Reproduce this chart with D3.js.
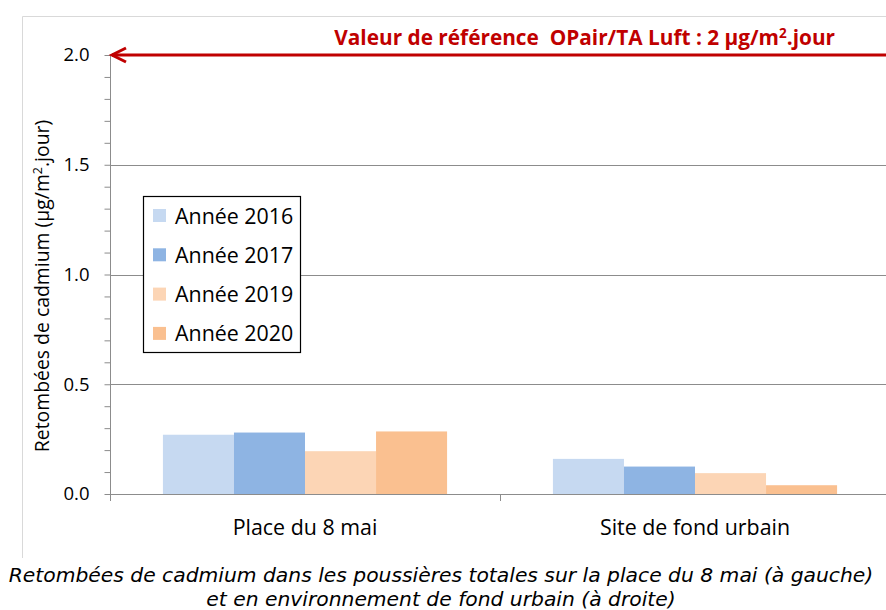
<!DOCTYPE html>
<html>
<head>
<meta charset="utf-8">
<script src="https://cdn.jsdelivr.net/npm/d3@7"></script>
<style>
  body { margin: 0; background: #fff; }
  text { font-family: "Open Sans", Lato, sans-serif; }
</style>
</head>
<body>
<div id="chart"></div>
<script>
// data
var sites = ["Place du 8 mai", "Site de fond urbain"];
var years = ["Année 2016", "Année 2017", "Année 2019", "Année 2020"];
var values2016 = [0.27, 0.16];
var values2017 = [0.28, 0.125];
var values2019 = [0.195, 0.095];
var values2020 = [0.285, 0.04];
var yTicks = [0.0, 0.5, 1.0, 1.5, 2.0];
var refValue = 2;
var refLabel = "Valeur de référence \u00a0OPair/TA Luft : 2 µg/m";
var captionLines = ["Retombées de cadmium dans les poussières totales sur la place du 8 mai (à gauche)",
                    "et en environnement de fond urbain (à droite)"];

var colors = ["#c6d9f1", "#8eb4e3", "#fcd5b5", "#fac090"];
var series = [values2016, values2017, values2019, values2020];

var width = 886, height = 610;
var margin = {top: 55, left: 110, bottom: 494, right: 890};

var svg = d3.select("#chart")
  .append("svg")
  .attr("width", width)
  .attr("height", height);

// outer frame (left and top edges only visible)
svg.append("path")
  .attr("d", "M22.5,558 V16.5 H886")
  .attr("fill", "none")
  .attr("stroke", "#d9d9d9")
  .attr("stroke-width", 1);

// scales
var y = d3.scaleLinear().domain([0, 2]).range([margin.bottom, margin.top]);
var x0 = d3.scaleBand().domain(sites).range([margin.left, margin.right]);
var x1 = d3.scaleBand().domain(years).range([0, x0.bandwidth()]).paddingOuter(0.745);

// gridlines
svg.append("g")
  .selectAll("line")
  .data(yTicks.filter(function(d) { return d > 0 && d < 2; }))
  .enter().append("line")
  .attr("x1", margin.left).attr("x2", width)
  .attr("y1", function(d) { return Math.round(y(d)) + 0.5; })
  .attr("y2", function(d) { return Math.round(y(d)) + 0.5; })
  .attr("stroke", "#8c8c8c")
  .attr("stroke-width", 1);

// bars
var groups = svg.append("g")
  .selectAll("g")
  .data(sites)
  .enter().append("g")
  .attr("transform", function(d) { return "translate(" + x0(d) + ",0)"; });

groups.selectAll("rect")
  .data(function(d, i) { return years.map(function(yr, j) { return {year: yr, value: series[j][i], c: colors[j]}; }); })
  .enter().append("rect")
  .attr("x", function(d) { return x1(d.year); })
  .attr("width", x1.bandwidth())
  .attr("y", function(d) { return y(d.value); })
  .attr("height", function(d) { return y(0) - y(d.value); })
  .attr("fill", function(d) { return d.c; });

// y axis
var yAxis = d3.axisLeft(y)
  .tickValues(d3.range(0, 2.01, 0.1))
  .tickSize(6)
  .tickFormat(function(d) { return (Math.round(d * 10) % 5 === 0) ? d3.format(".1f")(d) : ""; });

var gy = svg.append("g")
  .attr("transform", "translate(" + (margin.left + 0.5) + ",0)")
  .call(yAxis);
gy.select(".domain").attr("stroke", "#8c8c8c").attr("d", "M0," + margin.bottom + "V" + margin.top);
gy.selectAll(".tick line").attr("stroke", "#8c8c8c");
gy.selectAll(".tick text")
  .attr("x", -21)
  .attr("fill", "#000")
  .style("font-size", "18.5px");

// x axis
var xAxis = d3.axisBottom(x0).tickSize(0);
var gx = svg.append("g")
  .attr("transform", "translate(0," + (margin.bottom + 0.5) + ")")
  .call(xAxis);
gx.select(".domain").attr("stroke", "#8c8c8c").attr("d", "M" + margin.left + ",0H" + width);
gx.selectAll(".tick text")
  .attr("y", 40)
  .attr("dy", 0)
  .attr("fill", "#000")
  .style("font-size", "21.4px");
// category separator ticks
svg.append("g")
  .selectAll("line")
  .data(sites.concat(["end"]))
  .enter().append("line")
  .attr("x1", function(d, i) { return Math.round(margin.left + i * x0.step()) + 0.5; })
  .attr("x2", function(d, i) { return Math.round(margin.left + i * x0.step()) + 0.5; })
  .attr("y1", margin.bottom)
  .attr("y2", margin.bottom + 7)
  .attr("stroke", "#8c8c8c");

// y axis title
var yt = svg.append("text")
  .attr("transform", "translate(49," + 286 + ") rotate(-90)")
  .attr("text-anchor", "middle")
  .style("font-size", "19.4px")
  .attr("fill", "#000");
yt.append("tspan").text("Retombées de cadmium (µg/m");
yt.append("tspan").attr("dy", -7).style("font-size", "12.5px").text("2");
yt.append("tspan").attr("dy", 7).text(".jour)");

// reference line with arrow
svg.append("line")
  .attr("x1", margin.left + 2).attr("x2", width)
  .attr("y1", y(refValue)).attr("y2", y(refValue))
  .attr("stroke", "#c00000")
  .attr("stroke-width", 3);
svg.append("path")
  .attr("d", "M" + (margin.left + 16) + "," + (y(refValue) - 7) + " L" + (margin.left + 2) + "," + y(refValue) +
             " L" + (margin.left + 16) + "," + (y(refValue) + 7))
  .attr("fill", "none")
  .attr("stroke", "#c00000")
  .attr("stroke-width", 3);

var rt = svg.append("text")
  .attr("x", 835).attr("y", 45)
  .attr("text-anchor", "end")
  .attr("fill", "#c00000")
  .style("font-size", "20.8px")
  .style("font-weight", "bold");
rt.append("tspan").text(refLabel);
rt.append("tspan").attr("dy", -7).style("font-size", "13.5px").text("2");
rt.append("tspan").attr("dy", 7).text(".jour");

// legend
var legend = svg.append("g").attr("transform", "translate(143,196)");
legend.append("rect")
  .attr("x", 0.5).attr("y", 0.5)
  .attr("width", 157).attr("height", 156)
  .attr("fill", "#fff")
  .attr("stroke", "#000")
  .attr("stroke-width", 1.2);
var li = legend.selectAll(".li")
  .data(years)
  .enter().append("g")
  .attr("transform", function(d, i) { return "translate(0," + (20 + i * 39.3) + ")"; });
li.append("rect")
  .attr("x", 10).attr("y", -7)
  .attr("width", 13).attr("height", 13)
  .attr("fill", function(d, i) { return colors[i]; });
li.append("text")
  .attr("x", 32).attr("y", 7.5)
  .attr("fill", "#000")
  .style("font-size", "21.4px")
  .text(function(d) { return d; });

// caption
svg.append("g")
  .selectAll("text")
  .data(captionLines)
  .enter().append("text")
  .attr("x", 441)
  .attr("y", function(d, i) { return 582 + i * 24; })
  .attr("text-anchor", "middle")
  .style("font-family", "'DejaVu Sans', Verdana, sans-serif")
  .style("font-style", "italic")
  .style("font-size", "20.3px")
  .attr("fill", "#000")
  .text(function(d) { return d; });
</script>
</body>
</html>
